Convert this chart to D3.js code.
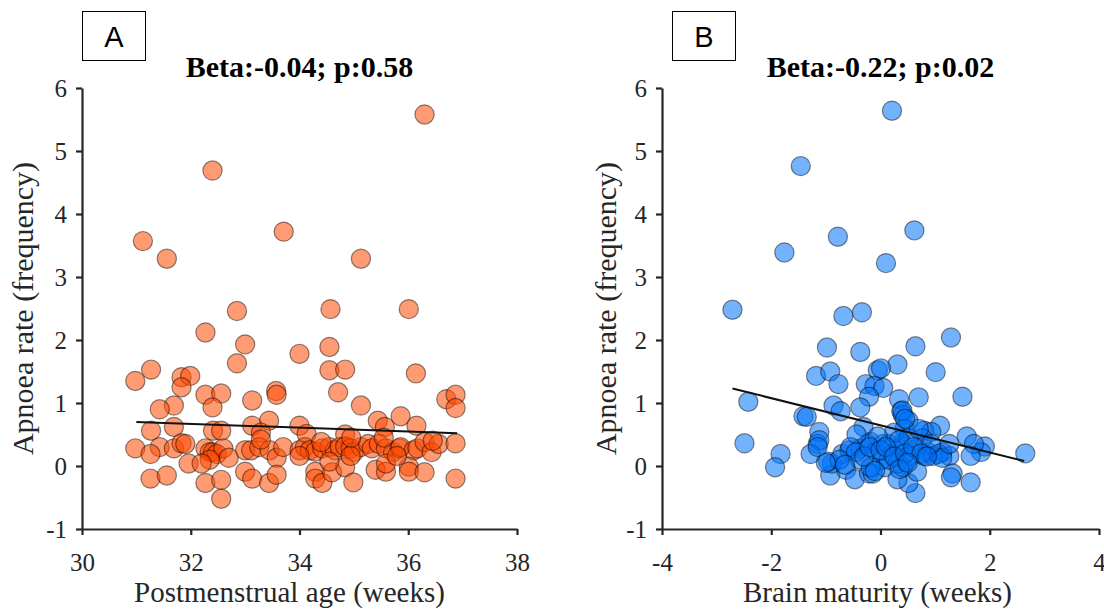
<!DOCTYPE html>
<html>
<head>
<meta charset="utf-8">
<script src="https://cdn.jsdelivr.net/npm/d3@7"></script>
<style>
  html, body { margin: 0; padding: 0; background: #fff; }
  svg { display: block; }
</style>
</head>
<body>
<svg id="chart" width="1104" height="609"></svg>
<script>
// Panel A: postmenstrual age (weeks) vs apnoea rate
const ageA = [
  36.30, 32.40, 31.12, 31.56, 33.71, 35.13, 34.57, 36.01, 32.85, 32.27,
  33.00, 34.55, 34.00, 32.85, 31.27, 30.98, 31.83, 31.99, 31.83, 34.55,
  34.84, 36.14, 34.71, 33.57, 33.58, 32.27, 32.56, 33.13, 35.13, 31.69,
  32.40, 31.43, 36.70, 36.87, 36.87, 35.86, 35.44, 33.44, 34.00, 36.15,
  35.57, 31.69, 31.27, 32.41, 32.56, 33.13, 33.29, 34.13, 34.84,
  30.98, 31.43, 31.26, 31.69, 31.83, 31.90, 32.27, 32.35, 32.41, 32.48,
  32.60, 32.70, 33.00, 33.11, 33.26, 33.45, 33.58, 33.70, 34.00, 34.10,
  34.19, 34.29, 34.42, 34.55, 34.65, 34.74, 34.84, 34.94, 35.00, 35.13,
  35.26, 35.33, 35.46, 35.59, 35.72, 35.84, 35.86, 36.10, 36.17, 36.30,
  36.43, 36.56, 36.87,
  31.96, 31.26, 31.56, 32.27, 32.56, 32.56, 33.00, 33.13, 33.44, 33.58,
  34.29, 34.29, 34.42, 34.60, 34.84, 34.99, 35.40, 35.59, 36.01, 36.01,
  36.30, 36.87, 35.59, 32.35, 32.20, 34.00, 34.55, 35.79, 34.94,
  33.29, 34.95, 35.55, 36.45, 34.40
];
const rateA = [
  5.58, 4.69, 3.57, 3.29, 3.72, 3.29, 2.49, 2.49, 2.46, 2.12,
  1.93, 1.89, 1.78, 1.63, 1.53, 1.35, 1.41, 1.43, 1.25, 1.52,
  1.53, 1.47, 1.17, 1.19, 1.13, 1.13, 1.15, 1.04, 0.96, 0.96,
  0.93, 0.90, 1.06, 1.13, 0.92, 0.79, 0.72, 0.72, 0.64, 0.64,
  0.62, 0.62, 0.56, 0.56, 0.56, 0.64, 0.53, 0.51, 0.50,
  0.28, 0.30, 0.19, 0.28, 0.36, 0.35, 0.28, 0.22, 0.22, 0.19,
  0.28, 0.13, 0.25, 0.25, 0.30, 0.25, 0.13, 0.30, 0.25, 0.30,
  0.25, 0.23, 0.28, 0.30, 0.25, 0.30, 0.31, 0.28, 0.22, 0.30,
  0.35, 0.28, 0.35, 0.28, 0.22, 0.28, 0.30, 0.25, 0.28, 0.38,
  0.22, 0.35, 0.36,
  0.04, -0.20, -0.15, -0.27, -0.22, -0.52, -0.09, -0.20, -0.27, -0.14,
  -0.09, -0.20, -0.27, -0.10, -0.02, -0.26, -0.06, -0.09, -0.01, -0.09,
  -0.10, -0.20, 0.04, 0.10, 0.04, 0.16, 0.07, 0.16, 0.16,
  0.42, 0.45, 0.45, 0.40, 0.38
];
const fitA_x = [31.0, 36.9];
const fitA_y = [0.70, 0.52];

// Panel B: brain maturity (weeks) vs apnoea rate
const maturityB = [
  0.21, -1.46, -0.78, -1.76, 0.62, 0.10, -2.71, -0.68, -0.34, -0.98,
  -0.37, 0.64, 1.29, 0.31, -1.18, -0.92, -0.77, -0.05, 0.01, -0.27,
  -0.11, 0.05, 1.01, 1.50, -2.42, -0.21, 0.34, 0.70, -0.86, -0.73,
  -0.37, 0.38, 0.41, -1.41, -1.35, 0.51, -0.31, 1.09, -1.12, 0.80,
  0.93, 1.58, -2.49, -1.83, -1.93, -1.15, -1.12, -1.28, 2.65, 1.91,
  1.84, 1.71, 1.65, 1.26, 1.13, 1.32, 1.29, 1.65, 0.64, 0.51,
  0.67, -0.92, -0.63, -0.47, -0.21, -0.14, 0.08, 0.31, 0.41, -0.89,
  -0.96, -0.70, -0.57, -0.37, -0.24, -0.18, -0.08, 0.05, 0.15, 0.21,
  0.34, 0.41, 0.54, 0.67, 0.80, 0.87, 0.96, 1.06, 1.13, -0.37,
  0.02, 0.31, 0.47, 0.15, -0.18, 0.44, 0.25, 0.77, -0.44, -0.05,
  0.51, 0.70, 0.34, 0.93, 1.26,
  -0.55, -0.45, -0.30, -0.20, 0.00, 0.10, 0.25, 0.45, 0.60, 0.75,
  0.85, -0.75, -0.65, 0.35, 0.50, -1.15, -1.00, -0.10, 0.40, 0.45
];
const rateB = [
  5.64, 4.76, 3.64, 3.39, 3.74, 3.22, 2.48, 2.38, 2.44, 1.88,
  1.81, 1.90, 2.04, 1.61, 1.43, 1.50, 1.30, 1.52, 1.55, 1.30,
  1.27, 1.24, 1.49, 1.10, 1.02, 1.10, 1.06, 1.09, 0.96, 0.87,
  0.93, 0.87, 0.81, 0.79, 0.78, 0.72, 0.62, 0.64, 0.54, 0.56,
  0.54, 0.47, 0.36, 0.19, -0.02, 0.35, 0.41, 0.19, 0.20, 0.31,
  0.22, 0.35, 0.16, 0.16, 0.22, -0.12, -0.18, -0.26, -0.43, -0.27,
  -0.09, -0.15, -0.06, -0.21, -0.12, -0.12, -0.02, -0.21, -0.02, 0.04,
  0.07, 0.19, 0.25, 0.28, 0.35, 0.38, 0.22, 0.35, 0.35, 0.19,
  0.28, 0.35, 0.16, 0.28, 0.16, 0.22, 0.16, 0.19, 0.13, 0.10,
  0.10, 0.04, 0.07, 0.10, -0.02, 0.59, 0.53, 0.44, 0.50, 0.47,
  0.44, 0.59, 0.41, 0.35, 0.35,
  0.30, 0.22, 0.15, 0.30, 0.25, 0.30, 0.15, 0.20, 0.30, 0.20,
  0.15, 0.10, 0.02, -0.05, 0.05, 0.30, 0.05, -0.08, 0.88, 0.75
];
const fitB_x = [-2.71, 2.63];
const fitB_y = [1.23, 0.08];

const yTicks = [-1, 0, 1, 2, 3, 4, 5, 6];
const xTicksA = [30, 32, 34, 36, 38];
const xTicksB = [-4, -2, 0, 2, 4];

const svg = d3.select("#chart");
const serif = "'Liberation Serif', 'Times New Roman', serif";
const axisColor = "#262626";

function panel(cfg) {
  const x = d3.scaleLinear().domain(cfg.xDomain).range([cfg.left, cfg.right]);
  const y = d3.scaleLinear().domain([-1, 6]).range([529, 88]);
  const g = svg.append("g");

  // semi-transparent markers, one per infant
  const pts = g.append("g");
  cfg.xs.forEach((xv, i) => {
    pts.append("circle")
      .attr("cx", x(xv))
      .attr("cy", y(cfg.ys[i]))
      .attr("r", 9.6)
      .attr("fill", cfg.fill)
      .attr("fill-opacity", 0.55)
      .attr("stroke", "#000")
      .attr("stroke-opacity", 0.45)
      .attr("stroke-width", 1.2);
  });

  // linear fit
  g.append("line")
    .attr("x1", x(cfg.fitX[0])).attr("y1", y(cfg.fitY[0]))
    .attr("x2", x(cfg.fitX[1])).attr("y2", y(cfg.fitY[1]))
    .attr("stroke", "#111").attr("stroke-width", 2);

  const yAxis = g.append("g")
    .attr("transform", `translate(${cfg.left},0)`)
    .call(d3.axisLeft(y).tickValues(yTicks).tickFormat(d3.format("d"))
      .tickSize(6).tickSizeOuter(0).tickPadding(9));
  const xAxis = g.append("g")
    .attr("transform", "translate(0,529)")
    .call(d3.axisBottom(x).tickValues(cfg.xTicks).tickFormat(d3.format("d"))
      .tickSize(6).tickSizeOuter(0).tickPadding(18));

  [yAxis, xAxis].forEach(a => {
    a.select(".domain").attr("stroke", axisColor).attr("stroke-width", 2.2);
    a.selectAll(".tick line").attr("stroke", axisColor).attr("stroke-width", 2.2);
    a.selectAll(".tick text")
      .attr("fill", "#262626")
      .style("font-family", serif)
      .style("font-size", "25px");
  });
  xAxis.selectAll(".tick text").text(d => d < 0 ? "-" + Math.abs(d) : d);
  yAxis.selectAll(".tick text").text(d => d < 0 ? "-" + Math.abs(d) : d);

  // title
  g.append("text")
    .attr("x", (cfg.left + cfg.right) / 2)
    .attr("y", 77)
    .attr("text-anchor", "middle")
    .style("font-family", serif)
    .style("font-weight", "bold")
    .style("font-size", "30px")
    .attr("fill", "#000")
    .text(cfg.title);

  // axis labels
  g.append("text")
    .attr("x", (cfg.left + cfg.right) / 2 + cfg.xLabelShift)
    .attr("y", 602)
    .attr("text-anchor", "middle")
    .style("font-family", serif)
    .style("font-size", "29px")
    .attr("fill", "#262626")
    .text(cfg.xLabel);

  g.append("text")
    .attr("transform", `translate(${cfg.yLabelX},${(88 + 529) / 2}) rotate(-90)`)
    .attr("text-anchor", "middle")
    .style("font-family", serif)
    .style("font-size", "30px")
    .attr("fill", "#262626")
    .text("Apnoea rate (frequency)");

  // panel letter box
  g.append("rect")
    .attr("x", cfg.boxX).attr("y", 11.5)
    .attr("width", 63).attr("height", 49)
    .attr("fill", "#fff").attr("stroke", "#000").attr("stroke-width", 1);
  g.append("text")
    .attr("x", cfg.boxX + 31.5).attr("y", 47)
    .attr("text-anchor", "middle")
    .style("font-family", "'Liberation Sans', Arial, sans-serif")
    .style("font-size", "29px")
    .attr("fill", "#000")
    .text(cfg.letter);
}

panel({
  xs: ageA, ys: rateA, fitX: fitA_x, fitY: fitA_y,
  xDomain: [30, 38], xTicks: xTicksA, left: 82, right: 517,
  fill: "rgb(255,72,0)", title: "Beta:-0.04; p:0.58",
  xLabel: "Postmenstrual age (weeks)", xLabelShift: -10, yLabelX: 33, boxX: 82.5, letter: "A"
});
panel({
  xs: maturityB, ys: rateB, fitX: fitB_x, fitY: fitB_y,
  xDomain: [-4, 4], xTicks: xTicksB, left: 662, right: 1099,
  fill: "rgb(0,114,250)", title: "Beta:-0.22; p:0.02",
  xLabel: "Brain maturity (weeks)", xLabelShift: -3, yLabelX: 616, boxX: 672.5, letter: "B"
});
</script>
</body>
</html>
